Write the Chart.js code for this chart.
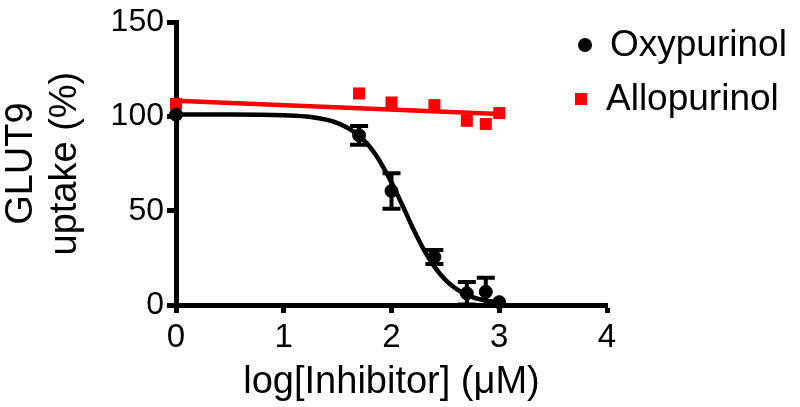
<!DOCTYPE html>
<html>
<head>
<meta charset="utf-8">
<script src="https://cdn.jsdelivr.net/npm/chart.js@4"></script>
<style>
  html, body { margin: 0; padding: 0; background: #fff; }
  #wrap { width: 800px; height: 407px; }
</style>
</head>
<body>
<div id="wrap"><canvas id="chart" width="800" height="407"></canvas></div>
<script>
// measured points (log uM, % uptake)
let doseLog = [0, 1.699, 2, 2.398, 2.699, 2.875, 3];
let oxyValues = [101, 90, 60.5, 25.5, 6.2, 7, 1.5];
let oxyErrors = [0, 5, 9.4, 3.7, 6, 7.4, 0];
let alloValues = [106.7, 112.2, 107.4, 106, 97.7, 96, 101.8];

// fitted curves
let oxyFitX = [0, 0.5, 1, 1.25, 1.5, 1.7, 1.85, 2, 2.1, 2.2, 2.3, 2.4, 2.5, 2.6, 2.75, 2.9, 3];
let oxyFitY = [101, 101, 100.6, 99.7, 96.5, 89.8, 80, 65, 53, 40.6, 29.4, 20.2, 13.3, 8.6, 4.2, 2.1, 1.3];
let alloFitX = [0, 3];
let alloFitY = [108.3, 101.3];

let xTicks = [0, 1, 2, 3, 4];
let yTicks = [0, 50, 100, 150];

function toPoints(xs, ys) {
    let pts = [];
    for(let i = 0; i < xs.length; i++) {
        pts.push({x: xs[i], y: ys[i]});
    }
    return pts;
}

const FONT = "'Liberation Sans', Arial, Helvetica, sans-serif";

// error bars drawn via the chart's own scales
const errorBars = {
    id: 'errorBars',
    afterDatasetsDraw(chart) {
        let ctx = chart.ctx;
        let xs = chart.scales.x, ys = chart.scales.y;
        ctx.save();
        ctx.strokeStyle = '#000';
        ctx.lineWidth = 4;
        for(let i = 0; i < doseLog.length; i++) {
            if(!oxyErrors[i]) continue;
            let px = xs.getPixelForValue(doseLog[i]);
            let top = ys.getPixelForValue(oxyValues[i] + oxyErrors[i]);
            let bot = ys.getPixelForValue(Math.max(0, oxyValues[i] - oxyErrors[i]));
            ctx.beginPath();
            ctx.moveTo(px, top); ctx.lineTo(px, bot);
            ctx.moveTo(px - 9, top); ctx.lineTo(px + 9, top);
            ctx.moveTo(px - 9, bot); ctx.lineTo(px + 9, bot);
            ctx.stroke();
        }
        ctx.restore();
    }
};

// legend sitting to the right of the plot
const sideLegend = {
    id: 'sideLegend',
    afterDraw(chart) {
        let ctx = chart.ctx;
        let sets = chart.data.datasets;
        ctx.save();
        ctx.font = '37px ' + FONT;
        ctx.textBaseline = 'middle';
        ctx.textAlign = 'left';

        // Oxypurinol
        ctx.beginPath();
        ctx.arc(585, 45, 7, 0, Math.PI * 2);
        ctx.fillStyle = sets[0].backgroundColor;
        ctx.fill();
        ctx.fillStyle = '#000';
        ctx.fillText(sets[0].label, 610, 46);

        // Allopurinol
        ctx.fillStyle = sets[1].backgroundColor;
        ctx.fillRect(575, 93, 12, 12);
        ctx.fillStyle = '#000';
        ctx.fillText(sets[1].label, 606, 100);
        ctx.restore();
    }
};

let ctx = document.getElementById('chart').getContext('2d');
new Chart(ctx, {
    type: 'scatter',
    data: {
        datasets: [
            {
                label: 'Oxypurinol',
                data: toPoints(doseLog, oxyValues),
                backgroundColor: '#000',
                borderColor: '#000',
                pointStyle: 'circle',
                pointRadius: 6.5,
                showLine: false,
                order: 0,
                clip: false
            },
            {
                label: 'Allopurinol',
                data: toPoints(doseLog, alloValues),
                backgroundColor: '#ff0000',
                borderColor: '#ff0000',
                pointStyle: 'rect',
                pointRadius: 8.5,
                borderWidth: 0,
                showLine: false,
                order: 2,
                clip: false
            },
            {
                label: 'Oxypurinol fit',
                data: toPoints(oxyFitX, oxyFitY),
                borderColor: '#000',
                borderWidth: 4.5,
                pointRadius: 0,
                showLine: true,
                cubicInterpolationMode: 'monotone',
                order: 1,
                clip: false
            },
            {
                label: 'Allopurinol fit',
                data: toPoints(alloFitX, alloFitY),
                borderColor: '#ff0000',
                borderWidth: 4.5,
                pointRadius: 0,
                showLine: true,
                order: 3,
                clip: false
            }
        ]
    },
    options: {
        responsive: false,
        animation: false,
        devicePixelRatio: 1,
        layout: { padding: { top: 21, right: 193, left: 0, bottom: 0 } },
        plugins: {
            legend: { display: false },
            tooltip: { enabled: false }
        },
        scales: {
            x: {
                type: 'linear',
                min: 0,
                max: 4,
                afterFit: function(scale) { scale.height = 102; },
                afterBuildTicks: function(scale) {
                    scale.ticks = xTicks.map(v => ({value: v}));
                },
                ticks: {
                    color: '#000',
                    font: { family: FONT, size: 33 },
                    padding: 5,
                    maxRotation: 0
                },
                grid: {
                    drawOnChartArea: false,
                    drawTicks: true,
                    tickLength: 8,
                    tickWidth: 5,
                    tickColor: '#000'
                },
                border: { color: '#000', width: 5 },
                title: {
                    display: true,
                    text: 'log[Inhibitor] (\u03bcM)',
                    color: '#000',
                    font: { family: FONT, size: 38, lineHeight: 1.15 },
                    padding: { top: 0, bottom: 3 }
                }
            },
            y: {
                type: 'linear',
                min: 0,
                max: 150,
                afterFit: function(scale) { scale.width = 176; },
                afterBuildTicks: function(scale) {
                    scale.ticks = yTicks.map(v => ({value: v}));
                },
                ticks: {
                    color: '#000',
                    font: { family: FONT, size: 32 },
                    padding: 3
                },
                grid: {
                    drawOnChartArea: false,
                    drawTicks: true,
                    tickLength: 9,
                    tickWidth: 5,
                    tickColor: '#000'
                },
                border: { color: '#000', width: 5 },
                title: {
                    display: true,
                    text: ['GLUT9', 'uptake (%)'],
                    color: '#000',
                    font: { family: FONT, size: 38, lineHeight: 1.15 },
                    padding: { top: 0, bottom: 0 }
                }
            }
        }
    },
    plugins: [errorBars, sideLegend]
});
</script>
</body>
</html>
